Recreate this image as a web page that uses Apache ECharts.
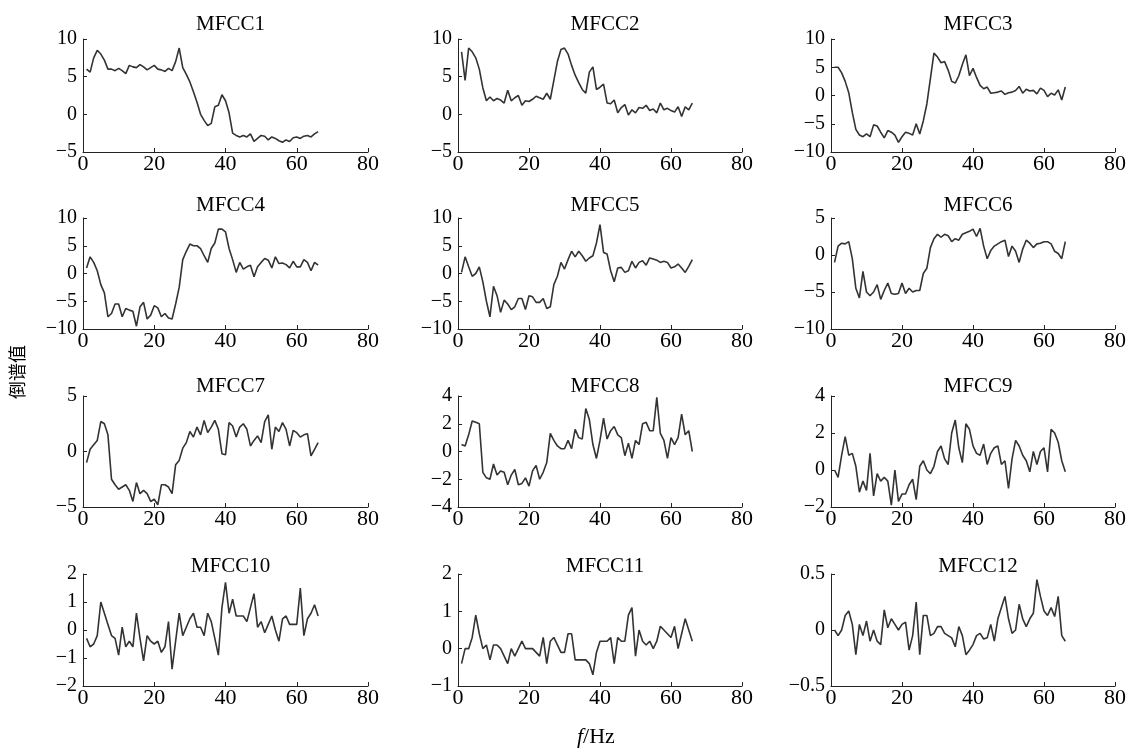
<!DOCTYPE html>
<html>
<head>
<meta charset="utf-8">
<script src="https://cdn.jsdelivr.net/npm/echarts@6/dist/echarts.min.js"></script>
<style>html,body{margin:0;padding:0;background:#fff}#c{width:1136px;height:751px}</style>
</head>
<body>
<div id="c"></div>
<script>
const freq = [1,2,3,4,5,6,7,8,9,10,11,12,13,14,15,16,17,18,19,20,21,22,23,24,25,26,27,28,29,30,31,32,33,34,35,36,37,38,39,40,41,42,43,44,45,46,47,48,49,50,51,52,53,54,55,56,57,58,59,60,61,62,63,64,65,66];
const titles = ['MFCC1','MFCC2','MFCC3','MFCC4','MFCC5','MFCC6','MFCC7','MFCC8','MFCC9','MFCC10','MFCC11','MFCC12'];
const mfcc1 = [6.0,5.6,7.5,8.5,8.0,7.2,6.0,6.0,5.8,6.1,5.8,5.4,6.5,6.3,6.2,6.6,6.3,5.9,6.2,6.5,6.0,5.9,5.7,6.1,5.8,7.0,8.8,6.2,5.3,4.3,3.0,1.6,0.0,-0.8,-1.5,-1.2,1.0,1.2,2.6,1.8,0.2,-2.5,-2.8,-3.0,-2.8,-3.0,-2.6,-3.6,-3.2,-2.8,-2.9,-3.4,-3.0,-3.2,-3.5,-3.7,-3.4,-3.6,-3.1,-3.0,-3.2,-2.9,-2.8,-3.0,-2.6,-2.3];
const mfcc2 = [8.3,4.5,8.8,8.3,7.5,6.0,3.5,1.8,2.3,1.8,2.1,1.9,1.5,3.2,1.8,2.2,2.5,1.2,1.8,1.7,2.0,2.4,2.2,2.0,2.8,2.0,4.5,7.0,8.6,8.8,8.0,6.5,5.2,4.2,3.3,2.8,5.6,6.3,3.3,3.6,4.0,1.5,1.4,1.9,0.2,0.9,1.3,-0.1,0.6,0.2,0.9,0.8,1.2,0.5,0.7,0.2,1.5,0.6,0.8,0.5,0.3,1.0,-0.3,1.0,0.6,1.5];
const mfcc3 = [5.0,5.0,4.0,2.5,0.5,-3.0,-6.0,-7.0,-7.3,-6.8,-7.3,-5.2,-5.4,-6.5,-7.5,-6.2,-6.5,-7.0,-8.3,-7.3,-6.5,-6.7,-7.0,-5.0,-6.8,-4.5,-1.5,3.0,7.5,6.8,5.8,6.0,4.5,2.5,2.2,3.5,5.5,7.2,3.5,4.8,3.2,1.8,1.2,1.5,0.4,0.5,0.6,0.8,0.2,0.5,0.6,0.9,1.6,0.4,1.1,0.8,0.9,0.3,1.3,0.9,-0.2,0.4,0.1,1.0,-0.8,1.5];
const mfcc4 = [1.0,3.0,2.0,0.5,-2.0,-3.5,-7.8,-7.2,-5.5,-5.5,-7.8,-6.3,-6.6,-6.8,-9.5,-6.0,-5.2,-8.2,-7.5,-5.8,-6.2,-7.8,-7.2,-8.0,-8.2,-5.5,-2.5,2.5,4.0,5.3,5.0,5.0,4.5,3.2,2.0,4.5,5.5,8.0,8.0,7.5,4.5,2.5,0.2,2.0,0.8,1.2,1.5,-0.6,1.2,2.0,2.7,2.4,1.0,3.0,1.8,1.9,1.6,1.0,2.2,1.2,1.2,2.5,2.0,0.5,2.0,1.5];
const mfcc5 = [0.2,3.0,1.2,-0.5,0.0,1.2,-1.5,-5.0,-7.8,-2.3,-4.0,-7.0,-4.8,-5.5,-6.5,-6.0,-4.5,-4.5,-6.5,-4.0,-4.2,-5.2,-5.2,-4.5,-6.3,-6.0,-2.0,-0.5,2.0,0.8,2.5,4.0,3.0,4.0,3.2,2.2,2.8,3.2,5.5,8.8,3.8,3.5,0.5,-1.5,1.0,1.1,0.2,0.5,2.2,1.0,2.0,2.3,1.5,2.8,2.6,2.4,2.0,2.2,2.0,1.0,1.2,1.7,1.0,0.2,1.3,2.5];
const mfcc6 = [-1.0,1.2,1.6,1.5,1.8,-0.5,-4.5,-5.8,-2.2,-5.0,-5.5,-5.0,-4.0,-6.0,-4.8,-3.8,-5.2,-5.3,-5.2,-3.8,-5.2,-4.5,-5.0,-4.8,-4.8,-2.5,-1.8,1.0,2.2,2.8,2.4,2.8,2.6,1.8,2.2,2.0,2.8,3.0,3.2,3.5,2.5,3.6,1.2,-0.5,0.6,1.2,1.5,1.8,2.0,-0.2,1.2,0.5,-1.0,0.8,2.0,1.6,1.0,1.5,1.6,1.8,1.8,1.5,0.5,0.2,-0.5,1.8];
const mfcc7 = [-1.0,0.2,0.6,1.0,2.7,2.5,1.5,-2.5,-3.0,-3.4,-3.2,-3.0,-3.5,-4.5,-2.8,-3.8,-3.5,-3.8,-4.5,-4.3,-4.8,-3.0,-3.0,-3.2,-3.8,-1.2,-0.8,0.3,0.8,1.8,1.3,2.2,1.5,2.8,1.7,2.2,2.8,2.0,-0.2,-0.3,2.6,2.3,1.3,2.2,2.5,2.0,0.5,1.0,1.4,0.8,2.7,3.3,0.2,2.2,1.8,2.6,2.0,0.5,1.9,1.7,1.3,1.5,1.6,-0.4,0.2,0.8];
const mfcc8 = [0.5,0.4,1.2,2.2,2.1,2.0,-1.5,-1.9,-2.0,-0.9,-1.7,-1.4,-1.5,-2.4,-1.7,-1.3,-2.4,-2.3,-1.9,-2.5,-1.4,-1.0,-2.0,-1.5,-0.8,1.3,0.8,0.4,0.2,0.2,0.8,0.2,1.6,1.0,0.9,3.1,2.3,0.5,-0.5,0.8,2.4,0.9,1.5,1.8,1.2,1.0,-0.3,0.6,-0.5,0.8,0.5,2.0,2.1,1.5,1.5,3.9,1.3,0.8,-0.5,1.0,0.5,1.0,2.7,1.2,1.5,0.0];
const mfcc9 = [0.0,-0.4,0.8,1.8,0.8,0.9,0.2,-1.2,-0.6,-1.1,0.9,-1.4,-0.2,-0.6,-0.4,-0.6,-1.9,0.0,-1.7,-1.3,-1.3,-0.8,-0.5,-1.6,0.2,0.5,0.0,-0.2,0.2,1.0,1.3,0.6,0.3,2.0,2.7,1.2,0.4,2.5,2.2,1.3,0.9,0.8,1.4,0.3,0.9,1.2,1.3,0.3,0.5,-1.0,0.6,1.6,1.3,0.8,0.5,-0.1,1.0,0.3,1.0,1.2,-0.1,2.2,2.0,1.5,0.5,-0.1];
const mfcc10 = [-0.3,-0.6,-0.5,-0.2,1.0,0.6,0.2,-0.2,-0.3,-0.9,0.1,-0.6,-0.4,-0.6,0.6,-0.3,-1.1,-0.2,-0.4,-0.5,-0.4,-0.8,-0.6,0.3,-1.4,-0.4,0.6,-0.2,0.1,0.4,0.6,0.1,0.1,-0.2,0.6,0.3,-0.3,-0.9,0.8,1.7,0.6,1.1,0.5,0.5,0.5,0.3,0.8,1.3,0.1,0.3,-0.1,0.2,0.5,0.0,-0.4,0.4,0.5,0.2,0.2,0.2,1.5,-0.2,0.4,0.6,0.9,0.5];
const mfcc11 = [-0.4,0.0,0.0,0.3,0.9,0.4,0.0,0.1,-0.3,0.1,0.1,0.0,-0.2,-0.4,0.0,-0.2,0.0,0.2,0.0,0.0,0.0,-0.1,-0.2,0.3,-0.4,0.2,0.3,0.1,-0.1,-0.1,0.4,0.4,-0.3,-0.3,-0.3,-0.3,-0.4,-0.7,-0.1,0.2,0.2,0.2,0.3,-0.4,0.3,0.2,0.2,0.9,1.1,-0.2,0.5,0.2,0.1,0.2,0.0,0.2,0.6,0.5,0.4,0.3,0.6,0.0,0.4,0.8,0.5,0.2];
const mfcc12 = [0.0,-0.05,0.0,0.13,0.17,0.05,-0.22,0.05,-0.05,0.08,-0.1,0.0,-0.1,-0.13,0.18,0.02,0.1,0.05,0.0,0.05,0.07,-0.18,-0.05,0.25,-0.22,0.13,0.13,-0.05,-0.03,0.03,0.03,-0.03,-0.05,-0.07,-0.15,0.03,-0.05,-0.22,-0.18,-0.13,-0.05,-0.03,-0.08,-0.07,0.05,-0.1,0.1,0.2,0.3,0.1,-0.03,0.0,0.23,0.1,0.03,0.1,0.15,0.45,0.3,0.17,0.13,0.2,0.12,0.3,-0.05,-0.1];
const yMins = [-5,-5,-10,-10,-10,-10,-5,-4,-2,-2,-1,-0.5];
const yMaxs = [10,10,10,10,10,5,5,4,4,2,2,0.5];
const yIntervals = [5,5,5,5,5,5,5,2,2,1,1,0.5];
const xTicks = [0,20,40,60,80];
const yLabel = '倒谱值';
const xLabelItalic = 'f';
const xLabelRest = '/Hz';

const allSeries = [mfcc1,mfcc2,mfcc3,mfcc4,mfcc5,mfcc6,mfcc7,mfcc8,mfcc9,mfcc10,mfcc11,mfcc12];

const colLeft = [83, 458, 831];
const colRight = [368, 742, 1115];
const rowTop = [39, 218, 396, 574];
const rowBottom = [152, 329, 507, 686];
const titleY = [20, 201, 382, 562];

const FONT = '"Liberation Serif","Times New Roman",serif';
const fmt = v => (v < 0 ? '\u2212' + String(-v) : String(v));

const grid = [], xAxis = [], yAxis = [], series = [], title = [];
for (let i = 0; i < 12; i++) {
  const r = Math.floor(i / 3), c = i % 3;
  grid.push({left: colLeft[c], top: rowTop[r], width: colRight[c] - colLeft[c], height: rowBottom[r] - rowTop[r]});
  xAxis.push({
    type: 'value', gridIndex: i, min: xTicks[0], max: xTicks[xTicks.length - 1], interval: 20,
    axisLine: {show: true, onZero: false, lineStyle: {color: '#222', width: 1}},
    axisTick: {show: true, inside: true, length: 4, lineStyle: {color: '#222'}},
    axisLabel: {color: '#000', fontFamily: FONT, fontSize: 22, margin: 1, formatter: fmt},
    splitLine: {show: false}
  });
  yAxis.push({
    type: 'value', gridIndex: i, min: yMins[i], max: yMaxs[i], interval: yIntervals[i],
    axisLine: {show: true, onZero: false, lineStyle: {color: '#222', width: 1}},
    axisTick: {show: true, inside: true, length: 4, lineStyle: {color: '#222'}},
    axisLabel: {color: '#000', fontFamily: FONT, fontSize: 20, margin: 6, formatter: fmt},
    splitLine: {show: false}
  });
  series.push({
    type: 'line', xAxisIndex: i, yAxisIndex: i, showSymbol: false, symbol: 'none',
    data: freq.map((f, k) => [f, allSeries[i][k]]),
    lineStyle: {color: '#333', width: 1.6}, animation: false
  });
  title.push({
    text: titles[i], left: (colLeft[c] + colRight[c]) / 2, top: titleY[r] - 11, textAlign: 'center',
    textStyle: {fontFamily: FONT, fontSize: 21, fontWeight: 'normal', color: '#000'}
  });
}

const chart = echarts.init(document.getElementById('c'), null, {renderer: 'canvas'});
chart.setOption({
  animation: false,
  backgroundColor: '#fff',
  title, grid, xAxis, yAxis, series,
  graphic: [
    {type: 'text', left: 8, top: 345, rotation: Math.PI / 2,
     style: {text: yLabel, font: '18px "Noto Sans CJK SC", sans-serif', fill: '#000'}},
    {type: 'text', left: 577, top: 726,
     style: {text: '{i|' + xLabelItalic + '}{n|' + xLabelRest + '}', rich: {
       i: {fontFamily: FONT, fontStyle: 'italic', fontSize: 22, fill: '#000'},
       n: {fontFamily: FONT, fontSize: 22, fill: '#000'}}}}
  ]
});
</script>
</body>
</html>
